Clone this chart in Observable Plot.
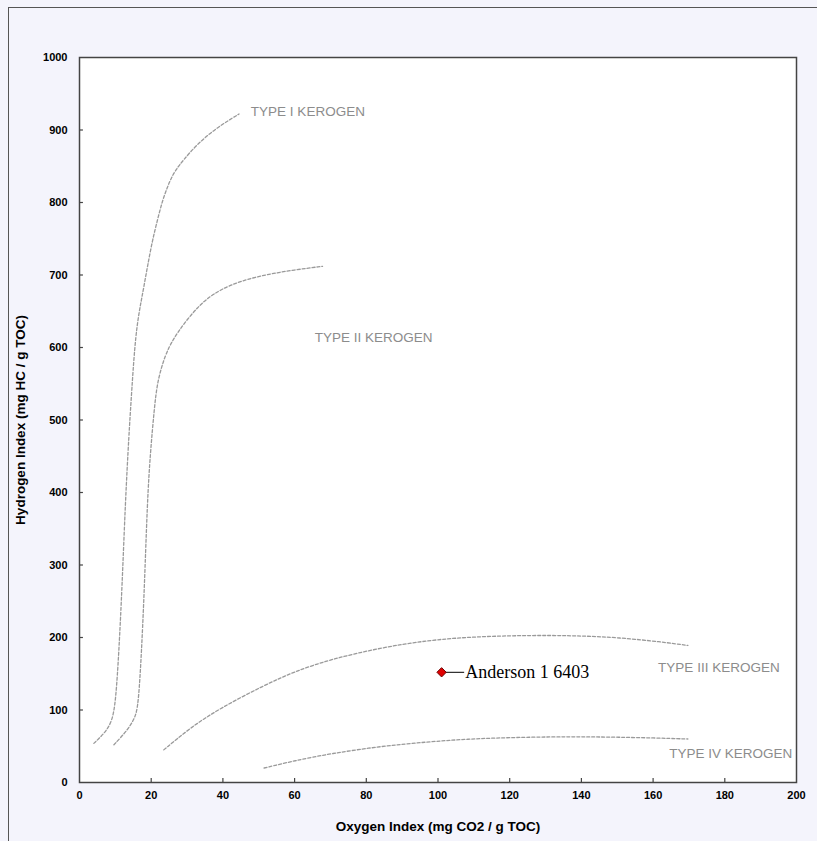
<!DOCTYPE html>
<html>
<head>
<meta charset="utf-8">
<script src="https://cdn.jsdelivr.net/npm/d3@7"></script>
<script src="https://cdn.jsdelivr.net/npm/@observablehq/plot@0.6"></script>
<style>
  html, body { margin: 0; padding: 0; background: #f4f4fc; width: 817px; height: 841px; overflow: hidden; }
  #wrap { position: relative; width: 817px; height: 841px; }
  #border { position: absolute; left: 8px; top: 7px; width: 820px; height: 850px; border-left: 1.5px solid #555; border-top: 1.5px solid #555; box-sizing: border-box; }
  #chart { position: absolute; left: 0; top: 0; }
</style>
</head>
<body>
<div id="wrap"><div id="border"></div><div id="chart"></div></div>
<script>
// Kerogen type boundary curves (Oxygen Index, Hydrogen Index)
const typeI_x = [4.0, 7.0, 9.1, 10.1, 11.0, 11.9, 12.8, 13.8, 14.5, 15.1, 15.7, 16.4, 17.2, 18.0, 18.9, 20.3, 21.7, 23.1, 24.5, 25.6, 27.0, 28.7, 32.9, 38.5, 44.5];
const typeI_y = [54, 68, 84, 112, 181, 273, 388, 481, 535, 580, 615, 642, 664, 685, 710, 747, 775, 802, 821, 834, 846, 857, 881, 904, 922];

const typeII_x = [9.6, 13.0, 15.6, 16.6, 18.0, 18.9, 19.8, 20.8, 21.7, 24.0, 25.9, 27.7, 30.1, 32.9, 35.7, 39.4, 45.0, 52.4, 59.9, 67.8];
const typeII_y = [52, 70, 89, 112, 250, 388, 457, 512, 554, 591, 609, 623, 639, 655, 668, 680, 692, 701, 707, 712];

const typeIII_x = [23.5, 31.0, 39.4, 51.5, 59.9, 70.1, 84.1, 97.0, 108.3, 120.0, 131.6, 141.0, 150.2, 162.3, 169.7];
const typeIII_y = [45, 76, 103, 134, 153, 170, 186, 196, 200.5, 202.5, 203, 202, 200, 194, 189];

const typeIV_x = [51.5, 59.9, 70.1, 84.1, 97.0, 108.3, 120.0, 131.6, 141.0, 150.2, 160.0, 169.7];
const typeIV_y = [20, 30, 40, 50, 56, 60, 62, 63, 63, 62.5, 61.5, 60];

// Curve labels
const curveLabels = ["TYPE I KEROGEN", "TYPE II KEROGEN", "TYPE III KEROGEN", "TYPE IV KEROGEN"];
const curveLabelX = [47.8, 65.6, 161.4, 164.5];
const curveLabelY = [925, 613, 159, 40];

// Sample
const sampleNames = ["Anderson 1 6403"];
const sampleOI = [101];
const sampleHI = [152];
const sampleLabelX = [107.3];

// Axes
const xTicks = [0, 20, 40, 60, 80, 100, 120, 140, 160, 180, 200];
const yTicks = [0, 100, 200, 300, 400, 500, 600, 700, 800, 900, 1000];
const xTitle = "Oxygen Index (mg CO2 / g TOC)";
const yTitle = "Hydrogen Index (mg HC / g TOC)";

const toPts = (xs, ys) => xs.map((x, i) => ({x, y: ys[i]}));
const labelData = curveLabels.map((t, i) => ({t, x: curveLabelX[i], y: curveLabelY[i]}));
const samples = sampleNames.map((n, i) => ({n, x: sampleOI[i], y: sampleHI[i], lx: sampleLabelX[i]}));

const dash = {x: "x", y: "y", curve: "basis", stroke: "#9a9a9a", strokeWidth: 1.3, strokeDasharray: "3,2"};

const chart = Plot.plot({
  width: 817,
  height: 841,
  marginLeft: 79,
  marginRight: 21,
  marginTop: 57,
  marginBottom: 59,
  style: {background: "transparent", fontFamily: "'Liberation Sans', Arial, sans-serif", color: "#000"},
  x: {domain: [0, 200]},
  y: {domain: [0, 1000]},
  marks: [
    Plot.frame({fill: "white", stroke: "none"}),
    Plot.line(toPts(typeI_x, typeI_y), dash),
    Plot.line(toPts(typeII_x, typeII_y), dash),
    Plot.line(toPts(typeIII_x, typeIII_y), dash),
    Plot.line(toPts(typeIV_x, typeIV_y), dash),
    Plot.text(labelData, {x: "x", y: "y", text: "t", textAnchor: "start", fill: "#8c8c8c", fontSize: 13.5}),
    Plot.link(samples, {x1: "x", x2: "lx", y1: "y", y2: "y", stroke: "#000", strokeWidth: 1}),
    Plot.dot(samples, {x: "x", y: "y", symbol: "diamond2", r: 4.2, fill: "#e00000", stroke: "#6a0000", strokeWidth: 1}),
    Plot.text(samples, {x: "lx", y: "y", text: "n", textAnchor: "start", dx: 1, fontFamily: "'Liberation Serif', 'Times New Roman', serif", fontSize: 18, fill: "#000"}),
    // inward tick marks
    Plot.ruleX(xTicks.slice(1, -1), {y1: 0, y2: 5.5, stroke: "#444", strokeWidth: 1.2}),
    Plot.ruleY(yTicks.slice(1, -1), {x1: 0, x2: 1.1, stroke: "#444", strokeWidth: 1.2}),
    Plot.axisX({ticks: xTicks, tickSize: 0, tickPadding: 9, label: null, fontWeight: "bold", fontSize: 11, tickFormat: d => String(d)}),
    Plot.axisY({ticks: yTicks, tickSize: 0, tickPadding: 12, label: null, fontWeight: "bold", fontSize: 11, tickFormat: d => String(d)}),
    Plot.frame({stroke: "#444", strokeWidth: 1.5}),
    Plot.text([xTitle], {frameAnchor: "bottom", textAnchor: "middle", lineAnchor: "middle", dy: 44, fontWeight: "bold", fontSize: 13.5, fill: "#000"}),
    Plot.text([yTitle], {frameAnchor: "left", textAnchor: "middle", lineAnchor: "middle", dx: -59, rotate: -90, fontWeight: "bold", fontSize: 13.5, fill: "#000"})
  ]
});
document.getElementById("chart").appendChild(chart);
</script>
</body>
</html>
